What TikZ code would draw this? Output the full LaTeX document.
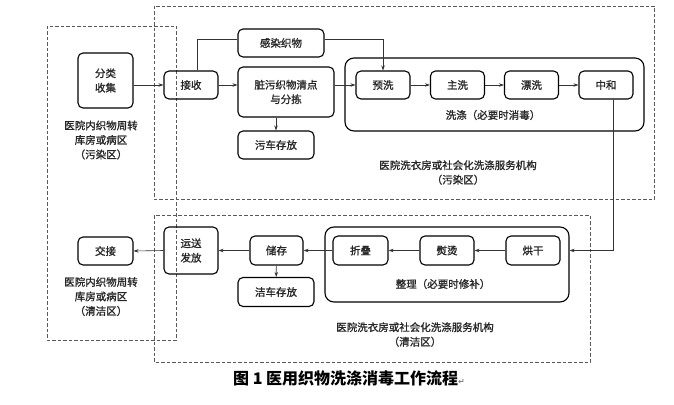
\documentclass[tikz,border=0pt]{standalone}
\usepackage{fontspec}
\setmainfont{Noto Sans CJK SC}[UprightFeatures={FakeBold=1.2}]
\newfontfamily\symfont{DejaVu Sans}
\usetikzlibrary{arrows.meta}
\begin{document}
\begin{tikzpicture}[x=1pt, y=-1pt, >={Stealth[length=5pt,width=3.5pt]},
    font=\fontsize{10.5}{14.5}\selectfont, text=black!85,
    stepbox/.style={draw, line width=1.1pt, rounded corners=5pt, align=center, inner sep=0pt,
      minimum width=54pt, minimum height=28pt},
    group/.style={draw, line width=1.1pt, rounded corners=9pt, inner sep=0pt},
    zone/.style={draw, black!65, line width=0.6pt, dash pattern=on 3.5pt off 2pt},
    flow/.style={->, line width=0.6pt, black!80}]
  \useasboundingbox (0,0) rectangle (674,404);
  % zones (dashed)
  \draw[zone] (47,26) rectangle (176,340);
  \draw[zone] (154,6) rectangle (654,199);
  \draw[zone] (154,215) rectangle (590,362);
  % dirty side
  \node[stepbox, minimum width=55pt, minimum height=55pt] (collect) at (105.5,80.5) {分类\\收集};
  \node[stepbox] (receive) at (191,85) {接收};
  \node[stepbox, minimum width=86pt] (infect) at (281,43) {感染织物};
  \node[stepbox, minimum width=96pt, minimum height=50pt] (sort) at (286,92) {脏污织物清点\\与分拣};
  \node[stepbox, minimum width=76pt] (dirtycar) at (276,145) {污车存放};
  \node[group, minimum width=299pt, minimum height=73pt] (wash) at (494.5,94.5) {};
  \node[stepbox] (prewash) at (383,85) {预洗};
  \node[stepbox] (mainwash) at (457.5,85) {主洗};
  \node[stepbox] (rinse) at (531.5,85) {漂洗};
  \node[stepbox] (neutral) at (606,85) {中和};
  \node (washlbl) at (493,115) {洗涤（必要时消毒）};
  \node[align=center] (dirtyward) at (101,140) {医院内织物周转\\库房或病区\\（污染区）};
  \node[align=center] (dirtylaundry) at (458,172.5) {医院洗衣房或社会化洗涤服务机构\\（污染区）};
  % clean side
  \node[group, minimum width=244pt, minimum height=75pt] (finish) at (447,264.5) {};
  \node[stepbox, minimum width=55pt, minimum height=29pt] (fold) at (360.5,250.5) {折叠};
  \node[stepbox, minimum height=29pt] (iron) at (447,250.5) {熨烫};
  \node[stepbox, minimum height=29pt] (dry) at (533,250.5) {烘干};
  \node (finishlbl) at (443,284) {整理（必要时修补）};
  \node[stepbox, minimum width=53pt, minimum height=29pt] (store) at (276.5,250.5) {储存};
  \node[stepbox, minimum width=76pt, minimum height=29pt] (cleancar) at (276,292) {洁车存放};
  \node[stepbox, minimum height=47pt] (dispatch) at (191,250.5) {运送\\发放};
  \node[stepbox, minimum width=55pt] (handover) at (105.5,251) {交接};
  \node[align=center] (cleanward) at (101,296.5) {医院内织物周转\\库房或病区\\（清洁区）};
  \node[align=center] (cleanlaundry) at (415,334.5) {医院洗衣房或社会化洗涤服务机构\\（清洁区）};
  % caption
  \node[font=\fontsize{16}{18}\selectfont\bfseries, text=black] (caption) at (349,378)
    {图 1 医用织物洗涤消毒工作流程{\symfont\fontsize{8}{8}\selectfont\color{gray}↵}};
  % connectors
  \draw[flow] (receive.west -| collect.east) -- (receive.west);
  \draw[flow] (receive.east) -- (receive.east -| sort.west);
  \draw[flow] (prewash.west -| sort.east) -- (prewash.west);
  \draw[line width=0.6pt, black!80] ([xshift=6pt]receive.north) |- ([yshift=4pt]infect.west);
  \draw[flow] ([yshift=4pt]infect.east) -| (prewash.north);
  \draw[flow] (sort.south -| dirtycar.north) -- (dirtycar.north);
  \draw[flow] (prewash) -- (mainwash);
  \draw[flow] (mainwash) -- (rinse);
  \draw[flow] (rinse) -- (neutral);
  \draw[flow] ([xshift=7pt]neutral.south) |- (dry.east -| finish.east);
  \draw[flow] (dry) -- (iron);
  \draw[flow] (iron) -- (fold);
  \draw[flow] (fold) -- (store);
  \draw[flow] (store) -- (cleancar);
  \draw[flow] (store) -- (dispatch);
  \draw[flow] (dispatch.west) -- (handover.east);
\end{tikzpicture}
\end{document}
